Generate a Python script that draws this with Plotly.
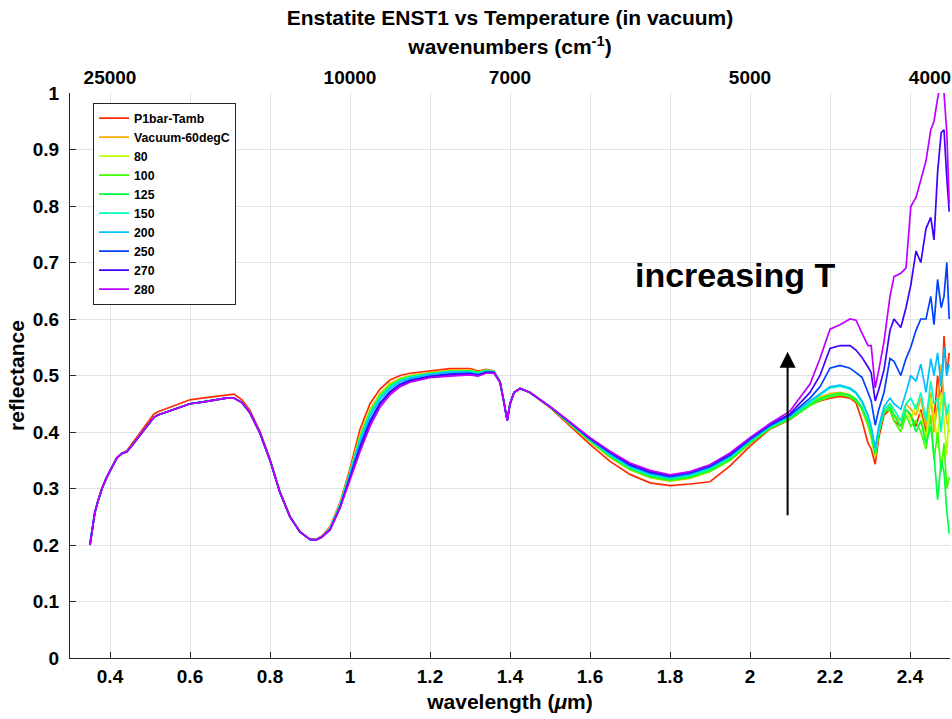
import plotly.graph_objects as go

# ---------------- data ----------------
wavelength_um = [
    0.350, 0.355, 0.362, 0.370, 0.380, 0.392, 0.405, 0.417, 0.430, 0.442,
    0.455, 0.470, 0.485, 0.500, 0.510, 0.520, 0.540, 0.560, 0.580, 0.600,
    0.630, 0.660, 0.690, 0.710, 0.730, 0.750, 0.775, 0.800, 0.825, 0.850,
    0.875, 0.900, 0.915, 0.930,
    0.950, 0.975, 1.000, 1.025, 1.050, 1.075, 1.100, 1.125, 1.150, 1.200,
    1.250, 1.300, 1.320, 1.340, 1.360, 1.375, 1.385, 1.393, 1.400, 1.410,
    1.425, 1.450,
    1.500, 1.550, 1.600, 1.650, 1.700, 1.750, 1.800, 1.850, 1.900, 1.950,
    2.000, 2.050,
    2.100, 2.150, 2.175, 2.200, 2.225, 2.250, 2.265, 2.280, 2.295, 2.303,
    2.313, 2.322, 2.335, 2.350, 2.360, 2.377, 2.390, 2.402, 2.415, 2.427,
    2.440, 2.452, 2.460, 2.469, 2.478, 2.485, 2.492, 2.498,
]

series_names = ["P1bar-Tamb", "Vacuum-60degC", "80", "100", "125",
                "150", "200", "250", "270", "280"]
series_colors = ["#ff2b00", "#ffaa00", "#bfff00", "#40ff00", "#00ff40",
                 "#00ffbf", "#00bfff", "#0040ff", "#4000ff", "#bf00ff"]

r_p1bar = [
    0.200, 0.226, 0.258, 0.279, 0.301, 0.321, 0.339, 0.355, 0.363, 0.367,
    0.379, 0.394, 0.408, 0.422, 0.432, 0.436, 0.441, 0.447, 0.452, 0.457,
    0.460, 0.463, 0.466, 0.467, 0.457, 0.438, 0.401, 0.352, 0.294, 0.251,
    0.223, 0.210, 0.210, 0.216,
    0.232, 0.275, 0.335, 0.405, 0.450, 0.476, 0.492, 0.500, 0.504, 0.508,
    0.512, 0.512, 0.508, 0.511, 0.508, 0.490, 0.455, 0.422, 0.448, 0.470,
    0.477, 0.470,
    0.443, 0.410, 0.378, 0.348, 0.325, 0.310, 0.305, 0.308, 0.312, 0.340,
    0.375, 0.405,
    0.422, 0.448, 0.455, 0.460, 0.463, 0.460, 0.452, 0.420, 0.380, 0.370,
    0.343, 0.390, 0.430, 0.440, 0.420, 0.410, 0.440, 0.430, 0.410, 0.440,
    0.400, 0.460, 0.420, 0.500, 0.450, 0.570, 0.500, 0.540,
]
r_vac60 = [
    0.200, 0.225, 0.257, 0.278, 0.300, 0.320, 0.338, 0.354, 0.362, 0.365,
    0.376, 0.390, 0.403, 0.416, 0.426, 0.430, 0.435, 0.440, 0.446, 0.450,
    0.453, 0.457, 0.460, 0.460, 0.452, 0.434, 0.398, 0.350, 0.293, 0.250,
    0.223, 0.210, 0.209, 0.214,
    0.230, 0.272, 0.330, 0.395, 0.440, 0.468, 0.486, 0.495, 0.500, 0.505,
    0.509, 0.509, 0.506, 0.510, 0.507, 0.490, 0.455, 0.422, 0.449, 0.470,
    0.477, 0.470,
    0.444, 0.413, 0.383, 0.355, 0.333, 0.319, 0.313, 0.318, 0.330, 0.350,
    0.380, 0.407,
    0.424, 0.452, 0.462, 0.468, 0.470, 0.466, 0.458, 0.440, 0.410, 0.390,
    0.355, 0.400, 0.440, 0.450, 0.430, 0.420, 0.450, 0.440, 0.430, 0.460,
    0.410, 0.470, 0.400, 0.450, 0.520, 0.460, 0.420, 0.400,
]
r_80 = [
    0.200, 0.225, 0.257, 0.278, 0.300, 0.320, 0.338, 0.354, 0.362, 0.365,
    0.376, 0.390, 0.403, 0.416, 0.426, 0.430, 0.435, 0.440, 0.446, 0.450,
    0.453, 0.457, 0.460, 0.460, 0.452, 0.434, 0.398, 0.350, 0.293, 0.250,
    0.223, 0.210, 0.209, 0.214,
    0.230, 0.272, 0.329, 0.393, 0.438, 0.466, 0.484, 0.494, 0.499, 0.504,
    0.508, 0.509, 0.506, 0.509, 0.507, 0.490, 0.454, 0.421, 0.449, 0.470,
    0.477, 0.470,
    0.444, 0.414, 0.384, 0.356, 0.334, 0.320, 0.314, 0.319, 0.331, 0.351,
    0.381, 0.407,
    0.424, 0.450, 0.460, 0.466, 0.469, 0.465, 0.457, 0.440, 0.412, 0.392,
    0.358, 0.400, 0.440, 0.450, 0.430, 0.410, 0.440, 0.420, 0.450, 0.430,
    0.390, 0.460, 0.430, 0.380, 0.470, 0.420, 0.360, 0.440,
]
r_100 = [
    0.200, 0.225, 0.257, 0.278, 0.300, 0.320, 0.338, 0.354, 0.362, 0.365,
    0.376, 0.390, 0.403, 0.416, 0.426, 0.430, 0.435, 0.440, 0.446, 0.450,
    0.453, 0.457, 0.460, 0.460, 0.452, 0.434, 0.398, 0.350, 0.293, 0.250,
    0.223, 0.210, 0.209, 0.214,
    0.229, 0.271, 0.328, 0.391, 0.436, 0.465, 0.483, 0.493, 0.498, 0.504,
    0.508, 0.508, 0.505, 0.509, 0.507, 0.489, 0.454, 0.421, 0.449, 0.470,
    0.477, 0.470,
    0.444, 0.414, 0.384, 0.356, 0.334, 0.320, 0.314, 0.319, 0.330, 0.350,
    0.380, 0.406,
    0.423, 0.447, 0.456, 0.462, 0.466, 0.462, 0.455, 0.440, 0.415, 0.395,
    0.360, 0.400, 0.435, 0.440, 0.420, 0.400, 0.430, 0.410, 0.420, 0.400,
    0.370, 0.430, 0.350, 0.400, 0.330, 0.380, 0.300, 0.320,
]
r_125 = [
    0.200, 0.225, 0.257, 0.278, 0.300, 0.320, 0.338, 0.354, 0.362, 0.365,
    0.376, 0.390, 0.403, 0.416, 0.426, 0.430, 0.435, 0.440, 0.446, 0.450,
    0.453, 0.457, 0.460, 0.460, 0.452, 0.434, 0.398, 0.350, 0.293, 0.250,
    0.223, 0.210, 0.209, 0.214,
    0.229, 0.271, 0.327, 0.389, 0.434, 0.463, 0.482, 0.492, 0.498, 0.503,
    0.507, 0.508, 0.505, 0.509, 0.507, 0.489, 0.454, 0.421, 0.449, 0.470,
    0.477, 0.470,
    0.444, 0.415, 0.385, 0.358, 0.336, 0.322, 0.316, 0.321, 0.333, 0.353,
    0.382, 0.408,
    0.424, 0.449, 0.459, 0.465, 0.469, 0.465, 0.458, 0.443, 0.418, 0.398,
    0.362, 0.400, 0.435, 0.445, 0.430, 0.410, 0.440, 0.430, 0.400, 0.420,
    0.380, 0.410, 0.360, 0.280, 0.350, 0.330, 0.260, 0.220,
]
r_150 = [
    0.202, 0.225, 0.257, 0.278, 0.300, 0.320, 0.338, 0.354, 0.362, 0.365,
    0.376, 0.390, 0.403, 0.416, 0.426, 0.430, 0.435, 0.440, 0.446, 0.450,
    0.453, 0.457, 0.460, 0.460, 0.452, 0.434, 0.398, 0.350, 0.293, 0.250,
    0.223, 0.210, 0.209, 0.214,
    0.229, 0.270, 0.326, 0.387, 0.432, 0.462, 0.480, 0.491, 0.497, 0.503,
    0.507, 0.507, 0.504, 0.508, 0.506, 0.489, 0.454, 0.421, 0.449, 0.470,
    0.477, 0.470,
    0.445, 0.416, 0.386, 0.359, 0.337, 0.324, 0.318, 0.323, 0.335, 0.355,
    0.384, 0.409,
    0.427, 0.452, 0.465, 0.478, 0.481, 0.476, 0.468, 0.452, 0.428, 0.405,
    0.368, 0.405, 0.440, 0.450, 0.440, 0.420, 0.450, 0.460, 0.440, 0.470,
    0.420, 0.490, 0.450, 0.460, 0.400, 0.470, 0.430, 0.450,
]
r_200 = [
    0.205, 0.226, 0.257, 0.278, 0.300, 0.320, 0.338, 0.354, 0.362, 0.365,
    0.376, 0.390, 0.403, 0.416, 0.426, 0.430, 0.435, 0.440, 0.446, 0.450,
    0.453, 0.457, 0.460, 0.460, 0.452, 0.434, 0.398, 0.350, 0.293, 0.250,
    0.223, 0.210, 0.209, 0.214,
    0.228, 0.269, 0.324, 0.383, 0.428, 0.458, 0.477, 0.489, 0.495, 0.502,
    0.506, 0.506, 0.503, 0.507, 0.506, 0.489, 0.453, 0.421, 0.450, 0.470,
    0.477, 0.470,
    0.445, 0.416, 0.387, 0.361, 0.339, 0.326, 0.319, 0.325, 0.337, 0.357,
    0.385, 0.410,
    0.428, 0.455, 0.468, 0.480, 0.483, 0.478, 0.470, 0.455, 0.430, 0.410,
    0.372, 0.410, 0.445, 0.460, 0.450, 0.440, 0.470, 0.500, 0.490, 0.520,
    0.470, 0.530, 0.500, 0.540, 0.480, 0.550, 0.500, 0.520,
]
r_250 = [
    0.200, 0.225, 0.257, 0.278, 0.300, 0.320, 0.338, 0.354, 0.362, 0.365,
    0.376, 0.390, 0.403, 0.416, 0.426, 0.430, 0.435, 0.440, 0.446, 0.450,
    0.453, 0.457, 0.460, 0.460, 0.452, 0.434, 0.398, 0.350, 0.293, 0.250,
    0.223, 0.210, 0.209, 0.214,
    0.227, 0.267, 0.320, 0.375, 0.420, 0.452, 0.472, 0.485, 0.492, 0.499,
    0.503, 0.504, 0.501, 0.506, 0.505, 0.488, 0.453, 0.420, 0.450, 0.470,
    0.477, 0.470,
    0.445, 0.417, 0.388, 0.363, 0.341, 0.328, 0.321, 0.327, 0.339, 0.359,
    0.387, 0.412,
    0.430, 0.460, 0.480, 0.513, 0.518, 0.513, 0.505, 0.497, 0.470, 0.455,
    0.412, 0.440, 0.470, 0.530, 0.525, 0.500, 0.530, 0.550, 0.580, 0.600,
    0.600, 0.640, 0.590, 0.670, 0.620, 0.640, 0.700, 0.600,
]
r_270 = [
    0.200, 0.225, 0.257, 0.278, 0.300, 0.320, 0.338, 0.354, 0.362, 0.365,
    0.376, 0.390, 0.403, 0.416, 0.426, 0.430, 0.435, 0.440, 0.446, 0.450,
    0.453, 0.457, 0.460, 0.460, 0.452, 0.434, 0.398, 0.350, 0.293, 0.250,
    0.223, 0.210, 0.209, 0.214,
    0.227, 0.266, 0.318, 0.371, 0.416, 0.449, 0.470, 0.483, 0.490, 0.498,
    0.501, 0.503, 0.500, 0.505, 0.505, 0.488, 0.452, 0.420, 0.450, 0.470,
    0.477, 0.470,
    0.445, 0.418, 0.389, 0.365, 0.343, 0.330, 0.323, 0.329, 0.341, 0.361,
    0.389, 0.414,
    0.432, 0.470, 0.500, 0.548, 0.553, 0.553, 0.545, 0.532, 0.515, 0.505,
    0.455, 0.475, 0.510, 0.580, 0.600, 0.585, 0.620, 0.660, 0.720, 0.700,
    0.760, 0.780, 0.740, 0.860, 0.930, 0.935, 0.850, 0.790,
]
r_280 = [
    0.200, 0.225, 0.257, 0.278, 0.300, 0.320, 0.338, 0.354, 0.362, 0.365,
    0.376, 0.390, 0.403, 0.416, 0.426, 0.430, 0.435, 0.440, 0.446, 0.450,
    0.453, 0.457, 0.460, 0.460, 0.452, 0.434, 0.398, 0.350, 0.293, 0.250,
    0.223, 0.210, 0.209, 0.214,
    0.226, 0.265, 0.315, 0.365, 0.410, 0.444, 0.466, 0.480, 0.488, 0.496,
    0.499, 0.501, 0.499, 0.504, 0.504, 0.488, 0.452, 0.420, 0.450, 0.470,
    0.477, 0.470,
    0.445, 0.418, 0.390, 0.366, 0.345, 0.332, 0.324, 0.330, 0.342, 0.363,
    0.390, 0.415,
    0.437, 0.485, 0.530, 0.582, 0.590, 0.600, 0.598, 0.575, 0.553, 0.553,
    0.478, 0.510, 0.560, 0.640, 0.675, 0.681, 0.690, 0.799, 0.815, 0.846,
    0.880, 0.935, 0.950, 0.990, 1.020, 1.000, 0.930, 0.805,
]

series_values = [r_p1bar, r_vac60, r_80, r_100, r_125,
                 r_150, r_200, r_250, r_270, r_280]

x_tick_vals = [0.4, 0.6, 0.8, 1.0, 1.2, 1.4, 1.6, 1.8, 2.0, 2.2, 2.4]
x_tick_text = ["0.4", "0.6", "0.8", "1", "1.2", "1.4", "1.6", "1.8", "2", "2.2", "2.4"]
y_tick_vals = [0, 0.1, 0.2, 0.3, 0.4, 0.5, 0.6, 0.7, 0.8, 0.9, 1.0]
y_tick_text = ["0", "0.1", "0.2", "0.3", "0.4", "0.5", "0.6", "0.7", "0.8", "0.9", "1"]
top_tick_vals = [0.4, 1.0, 1.4, 2.0, 2.45]
top_tick_text = ["25000", "10000", "7000", "5000", "4000"]

# ---------------- figure ----------------
FONT = "Liberation Sans, Arial, Helvetica, sans-serif"
AXC = "#262626"
GRID = "#e2e2e2"

fig = go.Figure()
for name, color, vals in zip(series_names, series_colors, series_values):
    assert len(vals) == len(wavelength_um)
    fig.add_trace(go.Scatter(
        x=wavelength_um, y=vals, mode="lines", name=name,
        line=dict(color=color, width=1.7),
    ))

# invisible trace to carry the top (wavenumber) axis
fig.add_trace(go.Scatter(x=[0.3, 2.5], y=[0, 0], xaxis="x2", mode="lines",
                         line=dict(width=0, color="rgba(0,0,0,0)"),
                         showlegend=False, hoverinfo="skip"))

tick_font = dict(family=FONT, size=19, color="#000000", weight="bold")
label_font = dict(family=FONT, size=21, color="#000000", weight="bold")

fig.update_layout(
    width=952, height=719, autosize=False,
    margin=dict(l=70, r=2, t=93, b=61),
    paper_bgcolor="white", plot_bgcolor="white",
    showlegend=True,
    title=dict(text="Enstatite ENST1 vs Temperature (in vacuum)",
               font=label_font, x=0.5, xref="paper", xanchor="center",
               y=1 - 18 / 719, yref="container", yanchor="middle"),
    xaxis=dict(range=[0.3, 2.5], tickvals=x_tick_vals, ticktext=x_tick_text,
               showgrid=True, gridcolor=GRID, gridwidth=1, zeroline=False,
               showline=True, linecolor=AXC, linewidth=1, mirror=False,
               ticks="inside", ticklen=6, tickcolor=AXC, tickwidth=1,
               tickfont=tick_font, ticklabelstandoff=1,
               title=dict(text="wavelength (<i>μ</i>m)", font=label_font, standoff=8)),
    xaxis2=dict(range=[0.3, 2.5], overlaying="x", side="top", anchor="y",
                tickvals=top_tick_vals, ticktext=top_tick_text,
                showgrid=False, zeroline=False, showline=False, ticks="",
                tickfont=tick_font, ticklabelstandoff=4,
                title=dict(text="wavenumbers (cm<sup>-1</sup>)", font=label_font, standoff=6)),
    yaxis=dict(range=[0, 1], tickvals=y_tick_vals, ticktext=y_tick_text,
               showgrid=True, gridcolor=GRID, gridwidth=1, zeroline=False,
               showline=True, linecolor=AXC, linewidth=1, mirror=False,
               ticks="inside", ticklen=6, tickcolor=AXC, tickwidth=1,
               tickfont=tick_font, ticklabelstandoff=6,
               title=dict(text="reflectance", font=label_font, standoff=2)),
    legend=dict(x=(93 - 70) / 880, y=1 - (103 - 93.3) / 564.7,
                xanchor="left", yanchor="top",
                bgcolor="white", bordercolor=AXC, borderwidth=1,
                font=dict(family=FONT, size=12.3, color="#000000", weight="bold"),
                itemwidth=30, tracegroupgap=0,
                entrywidth=120, entrywidthmode="pixels"),
)

fig.add_annotation(text="increasing T", x=1.964, y=0.678, xref="x", yref="y",
                   showarrow=False, xanchor="center", yanchor="middle",
                   font=dict(family=FONT, size=34, color="#000000", weight="bold"))
fig.add_annotation(text="", x=2.094, y=0.542, ax=2.094, ay=0.25,
                   xref="x", yref="y", axref="x", ayref="y",
                   showarrow=True, arrowhead=2, arrowsize=1.6, arrowwidth=2,
                   arrowcolor="#000000", standoff=0, startstandoff=0)

fig.write_html("out.html")
